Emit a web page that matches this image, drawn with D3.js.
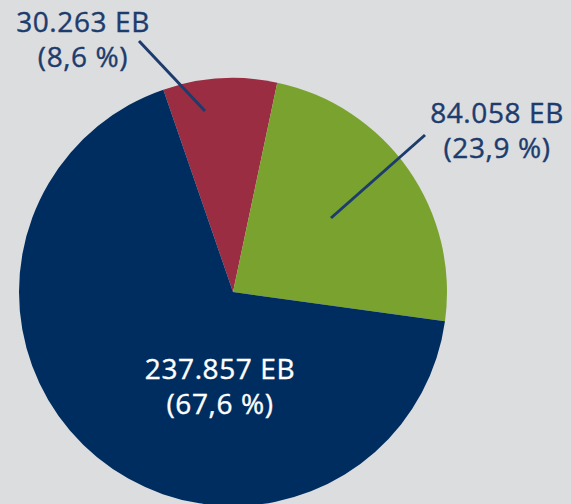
<!DOCTYPE html>
<html><head><meta charset="utf-8">
<script src="https://cdn.jsdelivr.net/npm/d3@7"></script>
<style>html,body{margin:0;padding:0;background:#dcdddf;}svg{display:block;}</style>
</head><body>
<svg id="c" width="571" height="504"></svg>
<script>
const categories = ["red", "green", "navy"];
const valuesEB = [30263, 84058, 237857];
const valueLabels = ["30.263 EB", "84.058 EB", "237.857 EB"];
const percentLabels = ["(8,6 %)", "(23,9 %)", "(67,6 %)"];
const colors = ["#9b2d42", "#79a22f", "#002d60"];

const svg = d3.select("#c");
const cx = 233, cy = 292, r = 214;
const start = -19 * Math.PI / 180;
const pie = d3.pie().sort(null).startAngle(start).endAngle(start + 2 * Math.PI);
const arcs = pie(valuesEB);
const arc = d3.arc().innerRadius(0).outerRadius(r);
const g = svg.append("g").attr("transform", `translate(${cx},${cy})`);
g.selectAll("path").data(arcs).join("path").attr("d", arc).attr("fill", (d, i) => colors[i]);

const textColor = "#1c3c6d";
const font = "'Open Sans', sans-serif";
const leaders = [
  {x1: 139, y1: 41, x2: 205, y2: 111},
  {x1: 425, y1: 135, x2: 331, y2: 218}
];
svg.selectAll("line.l").data(leaders).join("line")
  .attr("x1", d => d.x1).attr("y1", d => d.y1).attr("x2", d => d.x2).attr("y2", d => d.y2)
  .attr("stroke", textColor).attr("stroke-width", 3);

const labelPos = [
  {x: 83, y: 32, fill: textColor},
  {x: 497, y: 123, fill: textColor},
  {x: 220, y: 379, fill: "#ffffff"}
];
labelPos.forEach((p, i) => {
  const t = svg.append("text").attr("text-anchor", "middle").attr("font-family", font)
    .attr("font-size", 28).attr("letter-spacing", "0.6px").attr("fill", p.fill)
    .attr("stroke", p.fill).attr("stroke-width", 0.4);
  t.append("tspan").attr("x", p.x).attr("y", p.y).text(valueLabels[i]);
  t.append("tspan").attr("x", p.x).attr("y", p.y + 35).text(percentLabels[i]);
});
</script>
</body></html>
